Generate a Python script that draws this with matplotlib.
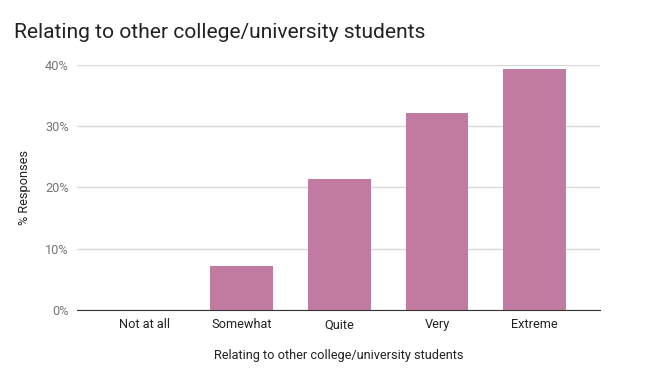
import matplotlib
matplotlib.use("Agg")
import matplotlib.pyplot as plt
from matplotlib.ticker import FuncFormatter

plt.rcParams['font.family'] = ['Roboto', 'DejaVu Sans']

categories = ["Not at all", "Somewhat", "Quite", "Very", "Extreme"]
responses = [0.0, 7.14, 21.43, 32.14, 39.29]
yticks = [0, 10, 20, 30, 40]

fig = plt.figure(figsize=(6.5, 3.86), dpi=100)
ax = fig.add_axes([0.1185, 0.197, 0.8045, 0.635])

x = range(len(categories))
ax.bar(x, responses, width=0.645, color="#c27ba0", zorder=3)

ax.set_xlim(-0.69, 4.67)
ax.set_ylim(0, 40)
ax.set_yticks(yticks)
ax.yaxis.set_major_formatter(FuncFormatter(lambda v, p: f"{v:.0f}%"))
ax.set_xticks(list(x))
ax.set_xticklabels(categories, fontsize=9.2, color="#222222")
ax.tick_params(axis="y", labelsize=9.2, labelcolor="#757575", length=0, pad=6)
ax.tick_params(axis="x", length=0, pad=6)
ax.grid(axis="y", color="#d9d9d9", linewidth=1, zorder=0)
for s in ["top", "right", "left"]:
    ax.spines[s].set_visible(False)
ax.spines["bottom"].set_color("#333333")
ax.spines["bottom"].set_zorder(4)

ax.set_xlabel("Relating to other college/university students", fontsize=9.2, color="#222222", labelpad=13)
ax.set_ylabel("% Responses", fontsize=9.2, color="#222222", labelpad=10)

fig.text(14 / 650, 1 - 33 / 386, "Relating to other college/university students",
         fontsize=15.1, color="#222222", va="center", ha="left")

fig.savefig("out.png", dpi=100)
